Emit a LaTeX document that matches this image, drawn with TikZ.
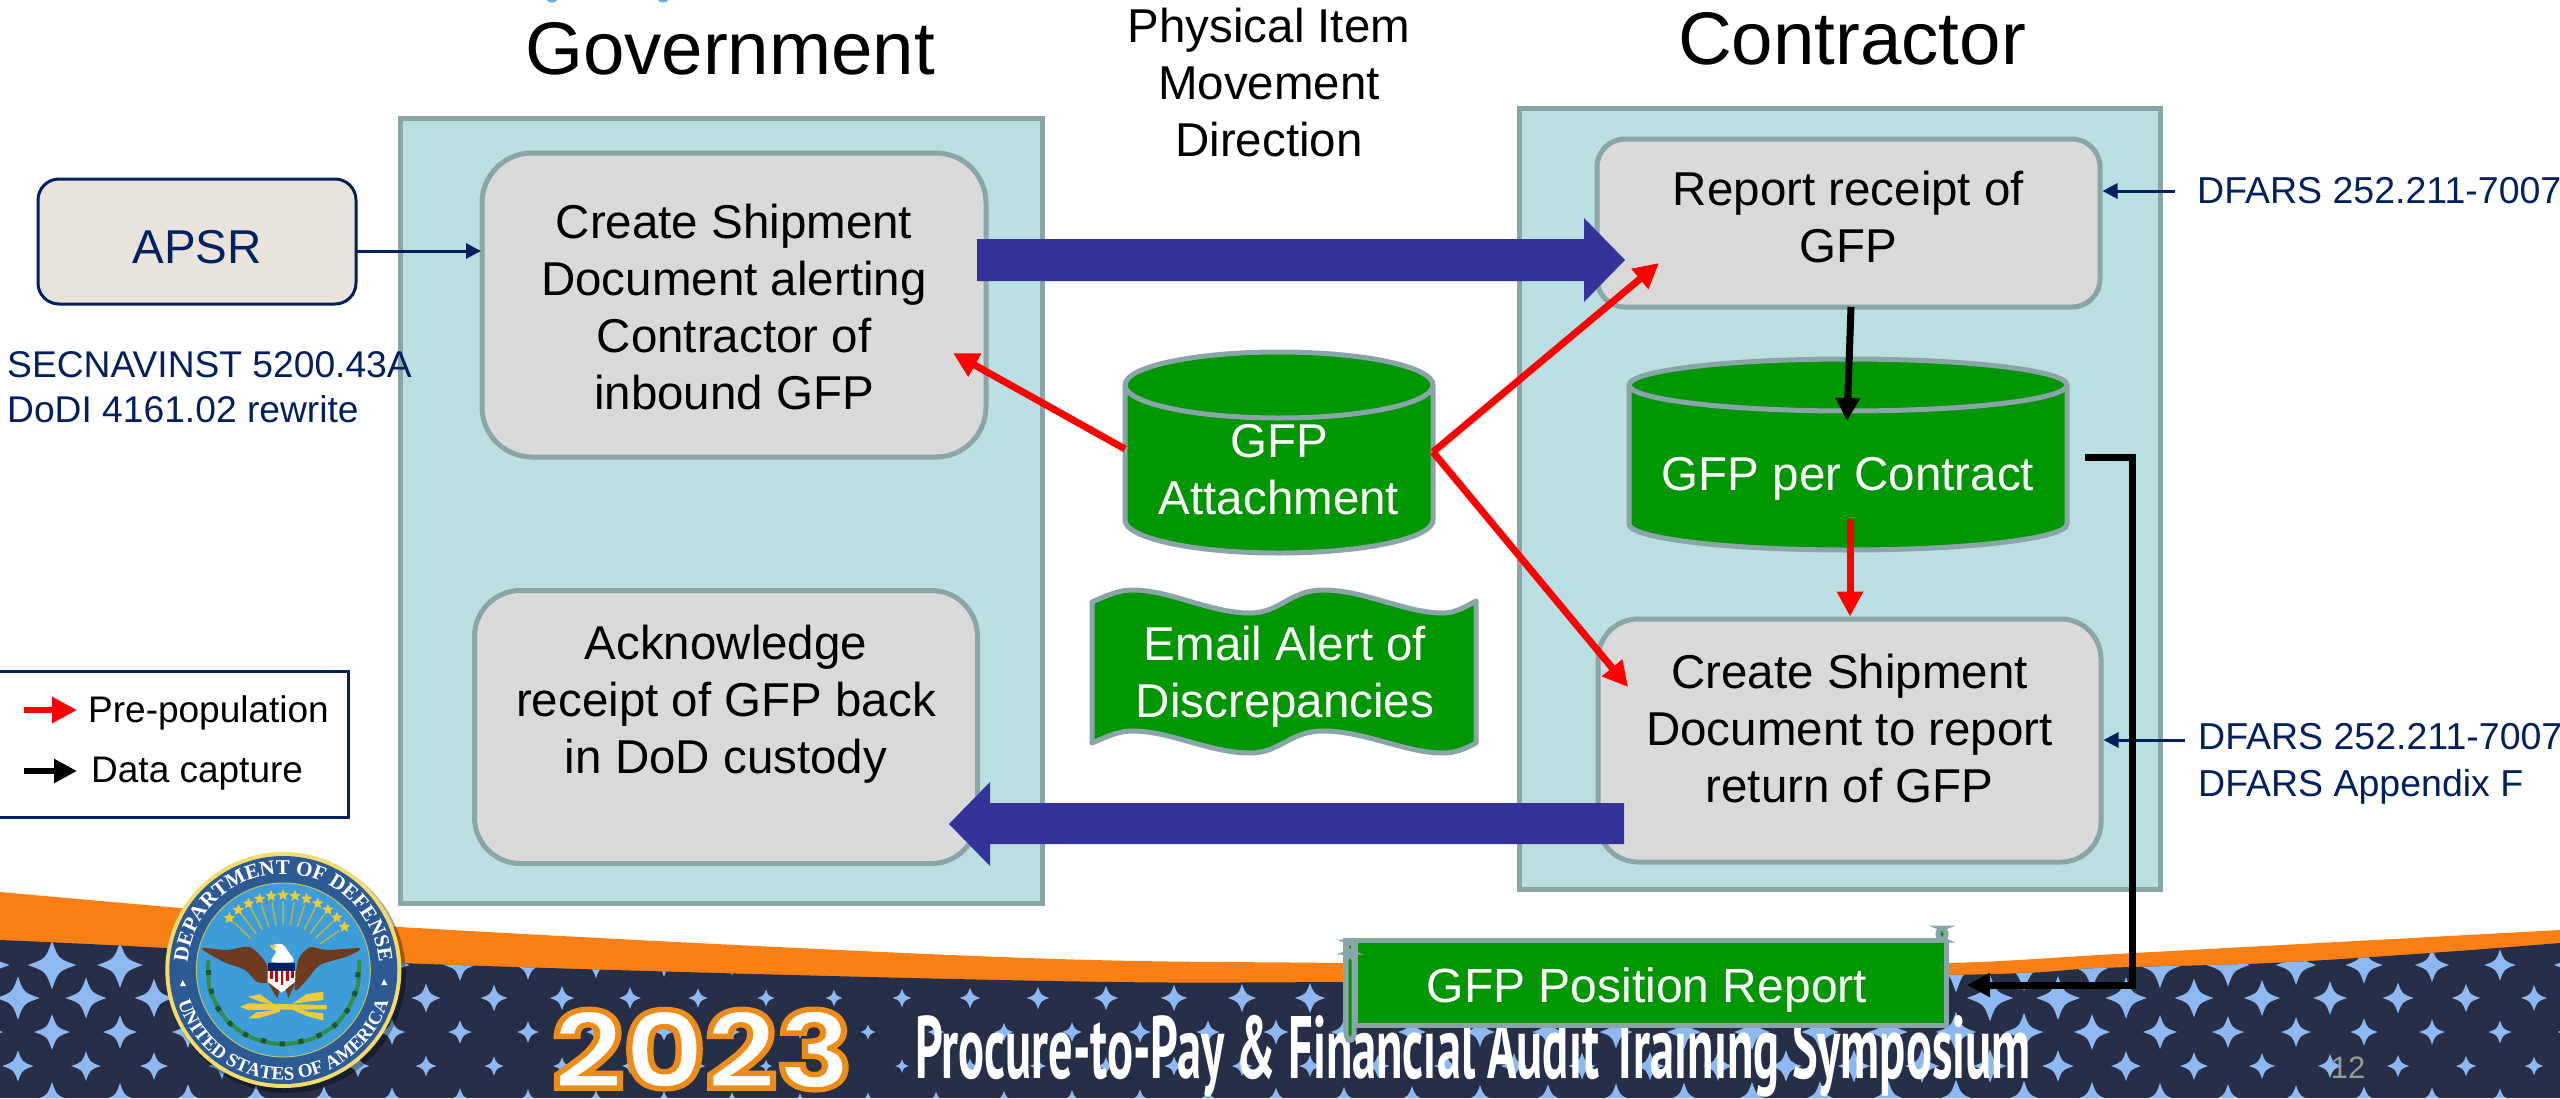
\documentclass[tikz,border=0pt]{standalone}
\usepackage{fontspec}
\setmainfont{Liberation Sans}
\newfontfamily\sealfam{Liberation Serif}
\newfontfamily\popfam{Poppins}
\newfontfamily\ptfam{PT Sans}
\usetikzlibrary{arrows.meta,calc,decorations.text,shapes.geometric}
\definecolor{strokec}{HTML}{8AA5A8}
\definecolor{panelc}{HTML}{B9DFE3}
\definecolor{procc}{HTML}{D9D9D9}
\definecolor{greenc}{HTML}{029602}
\definecolor{navyc}{HTML}{002060}
\definecolor{bluearr}{HTML}{333399}
\definecolor{apsrc}{HTML}{E8E4DC}
\definecolor{orangec}{HTML}{F98017}
\definecolor{bannerc}{HTML}{262F47}
\definecolor{starc}{HTML}{8DB9F0}
\definecolor{sealy}{HTML}{F2DC6B}
\definecolor{sealn}{HTML}{2E5A94}
\definecolor{sealsky}{HTML}{3E9DD8}
\definecolor{sealgold}{HTML}{EBCB3A}
\definecolor{sealbrown}{HTML}{6E3B1E}
\definecolor{sealgreen}{HTML}{2F8F4A}
\newcommand\bodyf{\fontsize{47.5}{57}\selectfont}
\newcommand\sealA{\sealfam\bfseries\fontsize{21}{21}\selectfont\color{white}}
\newcommand\sealB{\sealfam\bfseries\fontsize{19}{19}\selectfont\color{white}}
\tikzset{
 panel/.style={draw=strokec,fill=panelc,line width=5pt,inner sep=0pt},
 proc/.style={draw=strokec,fill=procc,line width=5pt,align=center,inner sep=0pt,font=\bodyf,text=black},
 gshape/.style={draw=strokec,fill=greenc,line width=5pt,line join=round},
 gtext/.style={text=white,font=\bodyf,align=center,inner sep=0pt},
 plain/.style={text=black,font=\bodyf,align=center,inner sep=0pt},
 title/.style={text=black,font=\fontsize{74.5}{80}\selectfont,inner sep=0pt},
 cite/.style={text=navyc,align=left,inner sep=0pt,anchor=west},
 redarr/.style={draw=red,line width=7pt,-{Triangle[length=25pt,width=25pt]}},
 blackarr/.style={draw=black,line width=7pt,-{Triangle[length=23pt,width=23pt]}},
 thinarr/.style={draw=navyc,line width=3pt,-{Triangle[length=15pt,width=15pt]}},
 bigarr/.style={fill=bluearr},
 sealstar/.style={star,star points=5,star point ratio=2.2,fill=sealgold,inner sep=0pt,minimum size=12pt}
}
\begin{document}
\begin{tikzpicture}[x=1pt,y=-1pt]
\useasboundingbox (0,0) rectangle (2560,1098);
\clip (0,0) rectangle (2560,1098);
\fill[white] (0,0) rectangle (2560,1098);
\fill[cyan!70!blue!60] (552,0) ellipse[x radius=5pt,y radius=2.5pt];
\fill[cyan!70!blue!60] (663,0) ellipse[x radius=5pt,y radius=2.5pt];
% banner
\fill[orangec] plot[smooth,tension=.6] coordinates {(0,892) (180,908) (400,927) (1000,957) (1340,963) (1700,966) (1950,963) (2134,953) (2560,930)} -- (2560,1098) -- (0,1098) -- cycle;
\begin{scope}
\clip plot[smooth,tension=.6] coordinates {(0,940) (165,948) (400,963) (1000,980) (1340,982) (1950,975) (2100,968) (2270,963) (2430,953) (2560,943)} -- (2560,1098) -- (0,1098) -- cycle;
\fill[bannerc] (0,900) rectangle (2560,1098);
\foreach \yy/\off/\g in {965/52/1.15, 998/18/1, 1032/52/.85, 1066/18/.72, 1100/52/.85}{
 \foreach \k in {-1,...,38}{
  \pgfmathsetmacro\xx{\off+68*\k}
  \pgfmathsetmacro\sh{\g*(\xx<800 ? 22-14*(\xx/800) : (\xx<1950 ? 8+16*((\xx-800)/1150) : 24-11*((\xx-1950)/580)))}
  \pgfmathsetmacro\sc{.26*\sh}
  \fill[starc] (\xx,\yy-\sh) .. controls (\xx+\sc,\yy-\sc) .. (\xx+\sh,\yy) .. controls (\xx+\sc,\yy+\sc) .. (\xx,\yy+\sh) .. controls (\xx-\sc,\yy+\sc) .. (\xx-\sh,\yy) .. controls (\xx-\sc,\yy-\sc) .. cycle;
 }
}
\end{scope}
% 2023
\node[anchor=north west,inner sep=0pt,text=white] (yr) at (552,1009) {\resizebox{300pt}{80pt}{\popfam\bfseries\special{pdf:code 0.93 0.55 0.1 RG 0.5 w 2 Tr}2023\special{pdf:code 0 Tr}}};
\node[anchor=north west,inner sep=0pt,text=white] (symp) at (915,1015) {\resizebox*{1115pt}{82pt}{\ptfam\bfseries Procure-to-Pay \& Financial Audit Training Symposium}};
\node[text=black!40,font=\fontsize{31}{31}\selectfont,inner sep=0pt] (pageno) at (2348,1068) {12};
% seal
\begin{scope}[shift={(160,850)},x=.33333pt,y=-.33333pt]
\fill[black,opacity=.35] (380,372) circle[radius=119pt];
\fill[sealy] (370,360) circle[radius=118pt];
\fill[sealn] (370,360) circle[radius=114pt];
\fill[sealsky,draw=sealy!70!sealgreen,line width=1pt] (370,360) circle[radius=87pt];
\path[decorate,decoration={text along path,text align=center,text={|\sealA|DEPARTMENT OF DEFENSE}}] (82,360) arc[start angle=180,end angle=0,radius=96pt];
\path[decorate,decoration={text along path,text align=center,text={|\sealB|UNITED STATES OF AMERICA}}] (54,456) arc[start angle=197,end angle=343,radius=110pt];
\fill[white] (68,390) -- (60,408) -- (78,408) -- cycle;
\fill[white] (672,387) -- (664,405) -- (682,405) -- cycle;
\foreach \a in {35,44.2,...,145.1}{
 \draw[sealgold!70!sealgreen,line width=1.5pt] ({370+135*cos(\a)},{359-135*sin(\a)}) -- ({370+205*cos(\a)},{359-205*sin(\a)});
 \node[sealstar] (st\a) at ({370+224*cos(\a)},{359-224*sin(\a)}) {};
}
\draw[sealgreen,line width=4pt,line cap=round] plot[smooth] coordinates {(145,335) (150,420) (200,510) (280,565) (370,582) (460,565) (540,510) (590,420) (598,335)};
\draw[sealgreen!60!black,line width=5pt,dash pattern=on 5pt off 14pt] plot[smooth] coordinates {(145,360) (165,460) (240,545) (370,582) (500,545) (575,460) (595,360)};
\fill[sealbrown] plot[smooth cycle,tension=.5] coordinates {(125,295) (200,300) (270,292) (318,340) (325,395) (290,395) (255,360) (190,335)};
\fill[sealbrown] plot[smooth cycle,tension=.5] coordinates {(600,295) (500,300) (450,292) (415,330) (405,420) (440,390) (480,345) (560,320)};
\fill[sealbrown] (325,400) -- (352,445) -- (362,410) -- cycle;
\fill[sealbrown] (405,400) -- (385,445) -- (375,410) -- cycle;
\fill[white] plot[smooth cycle] coordinates {(332,288) (365,282) (385,305) (400,335) (335,335) (348,305)};
\fill[sealgold] (330,285) -- (352,285) -- (340,300) -- cycle;
\fill[white] (323,362) -- (405,362) -- (405,395) -- (365,428) -- (323,395) -- cycle;
\fill[navyc] (323,340) rectangle (405,362);
\foreach \sx in {330,346,362,378,394}{\fill[red!80!black] (\sx,364) rectangle (\sx+8,{405-abs(\sx+4-364)*.6});}
\fill[sealgold] (240,470) -- (265,460) -- (500,465) -- (500,478) -- (265,480) -- cycle;
\fill[sealgold] (265,505) -- (290,487) -- (360,478) -- (360,485) -- (295,505) -- cycle;
\fill[sealgold] (490,512) -- (440,498) -- (395,478) -- (395,470) -- (445,485) -- (490,490) -- cycle;
\fill[sealgold] (265,440) -- (300,433) -- (345,465) -- (300,455) -- cycle;
\fill[sealgold] (490,425) -- (440,432) -- (395,462) -- (445,455) -- (490,450) -- cycle;
\end{scope}
% titles
\node[title] (govt) at (730,49) {Government};
\node[title] (contr) at (1852,39) {Contractor};
\node[plain] (phys) at (1269,83) {Physical Item\\Movement\\Direction};
% panels
\node[panel,minimum width=642pt,minimum height=785pt] (gov) at (721,510.5) {};
\node[panel,minimum width=641pt,minimum height=781pt] (con) at (1839.5,498.5) {};
% process boxes
\node[proc,rounded corners=50pt,minimum width=504pt,minimum height=304pt] (create) at (734,305) {\rule{0pt}{39pt}Create Shipment\\Document alerting\\Contractor of\\inbound GFP};
\node[proc,rounded corners=46pt,minimum width=503pt,minimum height=273pt,text depth=56pt] (ack) at (726,727) {Acknowledge\\receipt of GFP back\\in DoD custody};
\node[proc,rounded corners=28pt,minimum width=503pt,minimum height=168pt,text depth=12pt] (report) at (1848.5,223) {Report receipt of\\GFP};
\node[proc,rounded corners=40pt,minimum width=503pt,minimum height=243pt,text depth=24pt] (ret) at (1849.5,740.5) {Create Shipment\\Document to report\\return of GFP};
% APSR
\node[draw=navyc,fill=apsrc,line width=3pt,rounded corners=21pt,minimum width=318pt,minimum height=125pt,inner sep=0pt,font=\bodyf,text=navyc,text height=44pt] (apsr) at (197,241.5) {APSR};
\node[cite,font=\fontsize{37.2}{45}\selectfont] (secnav) at (7,387.5) {SECNAVINST 5200.43A\\DoDI 4161.02 rewrite};
\node[cite,font=\fontsize{37.5}{48}\selectfont] (dfarsa) at (2197,191) {DFARS 252.211-7007};
\node[cite,font=\fontsize{37.5}{47}\selectfont] (dfarsb) at (2198,763.5) {DFARS 252.211-7007\\DFARS Appendix F};
\coordinate (apsrout) at (356,251);
\coordinate (createin) at (481,251);
\draw[thinarr] (apsrout) -- (createin);
\coordinate (da) at (2175,191);
\coordinate (db) at (2185,740);
\draw[thinarr] (da) -- (report.east |- da);
\draw[thinarr] (db) -- (ret.east |- db);
% attachment cylinder
\path[gshape] (1125,385) -- (1125,520) arc[start angle=180,end angle=360,x radius=154pt,y radius=33pt] -- (1433,385) arc[start angle=0,end angle=180,x radius=154pt,y radius=33pt] -- cycle;
\draw[strokec,line width=5pt] (1125,385) arc[start angle=180,end angle=360,x radius=154pt,y radius=33pt];
\node[gtext] (attach) at (1279,470) {GFP\\Attachment};
% contract cylinder
\path[gshape] (1629,385) -- (1629,524) arc[start angle=180,end angle=360,x radius=219pt,y radius=26pt] -- (2067,385) arc[start angle=0,end angle=180,x radius=219pt,y radius=26pt] -- cycle;
\draw[strokec,line width=5pt] (1629,385) arc[start angle=180,end angle=360,x radius=219pt,y radius=26pt];
\node[gtext] (percon) at (1848,479) {GFP per Contract};
% email
\path[gshape] (1092,602) .. controls (1110,594) and (1120,590) .. (1133,590) .. controls (1170,590) and (1210,613) .. (1250,613) .. controls (1280,613) and (1290,590) .. (1323,590) .. controls (1365,590) and (1405,613) .. (1443,613) .. controls (1455,613) and (1465,607) .. (1476,601) -- (1476,743) .. controls (1465,749) and (1455,753) .. (1443,753) .. controls (1405,753) and (1365,731) .. (1323,731) .. controls (1290,731) and (1280,753) .. (1250,753) .. controls (1210,753) and (1170,731) .. (1133,731) .. controls (1120,731) and (1110,735) .. (1092,743) -- cycle;
\node[gtext] (email) at (1285,677) {Email Alert of\\Discrepancies};
% scroll
\path[gshape] (1346,940.5) rectangle (1946,1025.5);
\fill[strokec] (1343,938) rectangle (1358,1028);
\path[gshape,rounded corners=6pt] (1346,955) rectangle (1354,1040);
\path[draw=strokec,line width=5pt,fill=greenc,rounded corners=5pt] (1346,942) rectangle (1354,952);
\path[draw=strokec,line width=5pt,fill=greenc,rounded corners=5pt] (1938,928) rectangle (1946,940);
\node[gtext,font=\fontsize{48}{50}\selectfont] (pos) at (1647,990) {GFP Position Report};
% big arrows
\fill[bigarr] (977,239) -- (1584,239) -- (1584,218) -- (1625,260) -- (1584,302) -- (1584,281) -- (977,281) -- cycle;
\fill[bigarr] (1624,803) -- (990,803) -- (990,782) -- (949,824) -- (990,866) -- (990,844) -- (1624,844) -- cycle;
% red connectors
\coordinate (attl) at (1125,449);
\coordinate (attr) at (1433,452);
\coordinate (tipa) at (953,353);
\coordinate (tipb) at (1659,263);
\coordinate (tipc) at (1628,687);
\draw[redarr] (attl) -- (tipa);
\draw[redarr] (attr) -- (tipb);
\draw[redarr] (attr) -- (tipc);
\coordinate (pcbot) at (1850,519);
\coordinate (repbot) at (1851,307);
\coordinate (pcin) at (1847,421);
\draw[redarr] (pcbot) -- (ret.north -| pcbot);
\draw[blackarr] (repbot) -- (pcin);
\coordinate (pcout) at (2085,457);
\coordinate (corner) at (2132,985);
\coordinate (postip) at (1967,985);
\draw[blackarr,line join=miter] (pcout) -| (corner) -- (postip);
% legend
\node[draw=navyc,fill=white,line width=3pt,minimum width=352pt,minimum height=146pt,inner sep=0pt] (legend) at (172,744) {};
\coordinate (la) at (24,710);
\coordinate (lb) at (77,710);
\coordinate (lc) at (24,771);
\coordinate (ld) at (77,771);
\draw[redarr,line width=6pt] (la) -- (lb);
\draw[blackarr,line width=6pt] (lc) -- (ld);
\node[inner sep=0pt,anchor=west,font=\fontsize{37}{40}\selectfont] (pre) at (88,713) {Pre-population};
\node[inner sep=0pt,anchor=west,font=\fontsize{37}{40}\selectfont] (cap) at (91,774) {Data capture};
\end{tikzpicture}
\end{document}
